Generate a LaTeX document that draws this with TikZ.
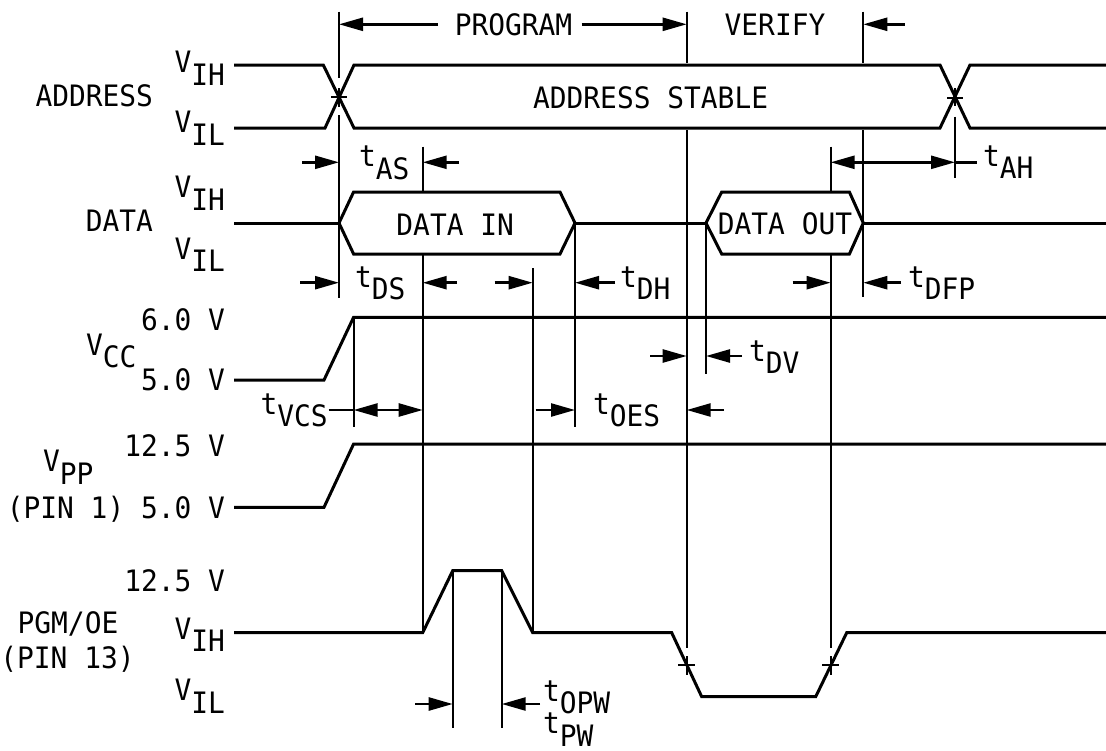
\documentclass[tikz,border=0pt]{standalone}
\usepackage{fontspec}
\setmainfont[FakeStretch=0.945]{DejaVu Sans Mono}
\usetikzlibrary{arrows.meta}
\newcommand\dn[1]{\raisebox{-12.5pt}[0pt][12.5pt]{#1}}
\tikzset{
  lbl/.style={inner sep=0pt, outer sep=0pt, font=\fontsize{29.5}{32}\selectfont},
  sig/.style={line width=3pt, line join=miter},
  vln/.style={line width=2pt},
  dim/.style={line width=2.5pt, -{Triangle[length=24pt,width=13pt]}},
  dimb/.style={line width=2.5pt, {Triangle[length=24pt,width=13pt]}-{Triangle[length=24pt,width=13pt]}},
}
\begin{document}
\begin{tikzpicture}[x=1pt,y=-1pt]
\fill[white] (0,0) rectangle (1106,750);
\path[use as bounding box] (0,0) rectangle (1106,750);

% ---------- signals ----------
% address
\draw[sig] (234,65)--(323.3,65)--(354,128)--(940,128)--(970,65)--(1106,65);
\draw[sig] (234,128)--(325,128)--(354,65)--(940,65)--(970,128)--(1106,128);
% data
\draw[sig] (234,223)--(339,223);
\draw[sig] (339,223)--(353.6,192)--(560,192)--(575,223)--(560,254)--(353.6,254)--cycle;
\draw[sig] (575,223)--(706,223);
\draw[sig] (706,223)--(721.7,192)--(849.4,192)--(863.3,223)--(849.4,254)--(721.7,254)--cycle;
\draw[sig] (863.3,223)--(1106,223);
% vcc
\draw[sig] (234,380)--(324,380)--(353.6,317.3)--(1106,317.3);
% vpp
\draw[sig] (234,507.3)--(324,507.3)--(353.6,444)--(1106,444);
% pgm/oe
\draw[sig] (234,632.7)--(422.7,632.7)--(452.7,570.7)--(501.7,570.7)--(532.7,632.7)
  --(671.7,632.7)--(701.7,696.7)--(815.7,696.7)--(846.7,632.7)--(1106,632.7);

% ---------- vertical reference lines ----------
\draw[vln] (339,11.7)--(339,78) (339,88)--(339,107) (339,115)--(339,298);
\draw[vln] (331,97)--(347,97);
\draw[vln] (422.7,146.7)--(422.7,192) (422.7,254)--(422.7,633);
\draw[vln] (532.7,268.3)--(532.7,633);
\draw[vln] (575,223)--(575,426.7);
\draw[vln] (686.7,11.7)--(686.7,63.3) (686.7,130)--(686.7,648.3) (686.7,656)--(686.7,675);
\draw[vln] (678,665)--(695,665);
\draw[vln] (706,223)--(706,374);
\draw[vln] (830.6,146.7)--(830.6,192) (830.6,254)--(830.6,648.3) (830.6,656)--(830.6,675);
\draw[vln] (822,665)--(839,665);
\draw[vln] (863.3,11.7)--(863.3,63.3) (863.3,130)--(863.3,296.7);
\draw[vln] (955,88)--(955,106) (955,116.7)--(955,177.7);
\draw[vln] (947,97.5)--(963,97.5);
\draw[vln] (353.6,317.3)--(353.6,426.7);
\draw[vln] (452.7,570.7)--(452.7,728.3);
\draw[vln] (501.7,570.7)--(501.7,728.3);

% ---------- dimension arrows ----------
\draw[dim] (438,24.3)--(339,24.3);
\draw[dim] (581.5,24.3)--(686.7,24.3);
\draw[dim] (904.6,24.3)--(863.3,24.3);
\draw[dim] (302,162.3)--(339,162.3);
\draw[dim] (459,162.3)--(422.7,162.3);
\draw[dimb] (830.6,162.3)--(955,162.3);
\draw[line width=2.5pt] (955,162.3)--(976.7,162.3);
\draw[dim] (300,282.7)--(339,282.7);
\draw[dim] (457,282.7)--(422.7,282.7);
\draw[dim] (494.6,282.7)--(532.7,282.7);
\draw[dim] (615,282.7)--(575,282.7);
\draw[dim] (792.7,282.7)--(830.6,282.7);
\draw[dim] (901,282.7)--(863.3,282.7);
\draw[dim] (650,356)--(686.7,356);
\draw[dim] (742,356)--(706,356);
\draw[line width=2.5pt] (328.6,410)--(353.6,410);
\draw[dimb] (353.6,410)--(422.7,410);
\draw[dim] (535.7,410)--(575,410);
\draw[dim] (724,410)--(686.7,410);
\draw[dim] (415,704)--(452.7,704);
\draw[dim] (540,704)--(501.7,704);

% ---------- labels ----------
\node[lbl,anchor=base east] (addr) at (153,106) {ADDRESS};
\node[lbl,anchor=base east] (avih) at (225,72.5) {V\dn{IH}};
\node[lbl,anchor=base east] (avil) at (225,132.5) {V\dn{IL}};
\node[lbl,anchor=base east] (data) at (153,231) {DATA};
\node[lbl,anchor=base east] (dvih) at (225,197.5) {V\dn{IH}};
\node[lbl,anchor=base east] (dvil) at (225,259) {V\dn{IL}};
\node[lbl,anchor=base east] (v6) at (225,330) {6.0 V};
\node[lbl,anchor=base east] (v5) at (225,390) {5.0 V};
\node[lbl,anchor=base west] (vcc) at (86,355) {V\dn{CC}};
\node[lbl,anchor=base east] (vpph) at (225,456.7) {12.5 V};
\node[lbl,anchor=base west] (vpp) at (43,471.5) {V\dn{PP}};
\node[lbl,anchor=base east] (pin1) at (225,518.3) {(PIN 1) 5.0 V};
\node[lbl,anchor=base east] (p125) at (225,591.7) {12.5 V};
\node[lbl,anchor=base] (pgm) at (68,633.3) {PGM/OE};
\node[lbl,anchor=base] (pin13) at (67.5,668.3) {(PIN 13)};
\node[lbl,anchor=base east] (pvih) at (225,639.2) {V\dn{IH}};
\node[lbl,anchor=base east] (pvil) at (225,700.8) {V\dn{IL}};
\node[lbl,anchor=base] (prog) at (513.5,35) {PROGRAM};
\node[lbl,anchor=base] (ver) at (775,35) {VERIFY};
\node[lbl,anchor=base] (stable) at (650.6,108.3) {ADDRESS STABLE};
\node[lbl,anchor=base] (din) at (455.2,235) {DATA IN};
\node[lbl,anchor=base] (dout) at (785,234) {DATA OUT};
\node[lbl,anchor=base west] (tas) at (359,166.7) {t\dn{AS}};
\node[lbl,anchor=base west] (tds) at (355,287) {t\dn{DS}};
\node[lbl,anchor=base west] (tdh) at (620,287) {t\dn{DH}};
\node[lbl,anchor=base west] (tdfp) at (908,287) {t\dn{DFP}};
\node[lbl,anchor=base west] (tah) at (983,166) {t\dn{AH}};
\node[lbl,anchor=base west] (tvcs) at (260.5,414) {t\dn{VCS}};
\node[lbl,anchor=base west] (toes) at (593,414) {t\dn{OES}};
\node[lbl,anchor=base west] (tdv) at (749,361) {t\dn{DV}};
\node[lbl,anchor=base west] (topw) at (543,701) {t\dn{OPW}};
\node[lbl,anchor=base west] (tpw) at (543,733.5) {t\dn{PW}};
\end{tikzpicture}
\end{document}
